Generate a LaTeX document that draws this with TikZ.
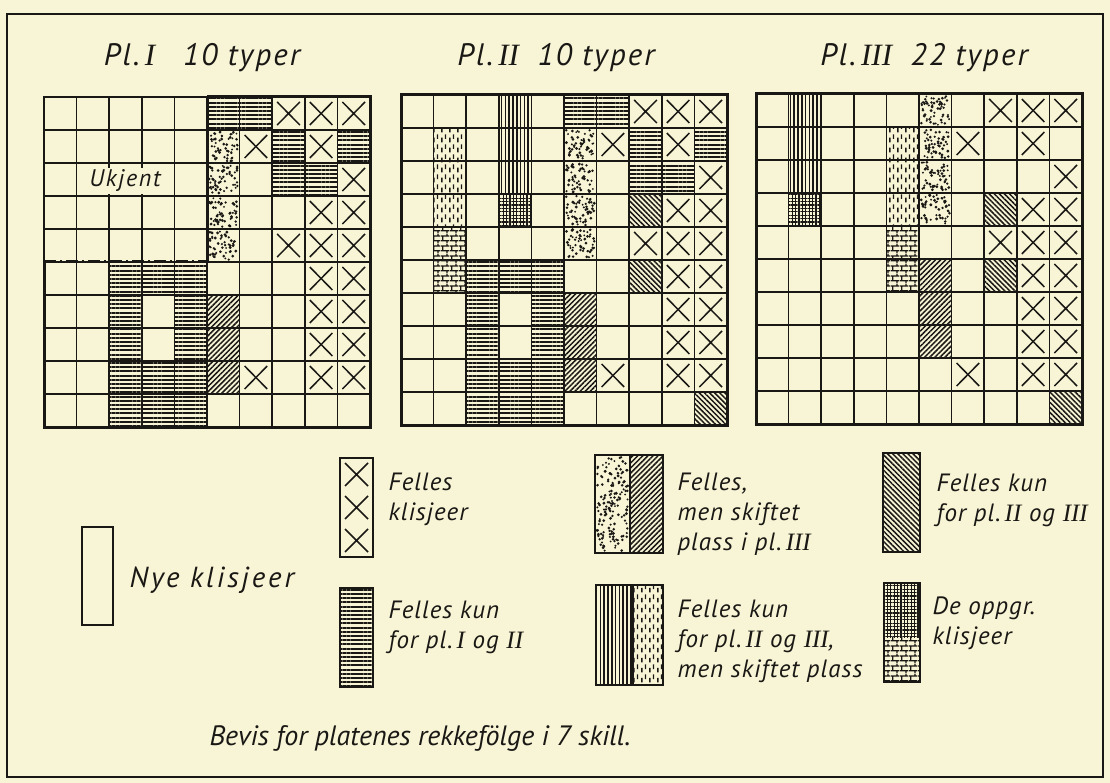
\documentclass[tikz,border=0pt]{standalone}
\usepackage{fontspec}
\setmainfont{PT Sans}
\newfontfamily\handfont[LetterSpace=7]{PT Sans}
\newfontfamily\legfont[LetterSpace=4]{PT Sans}
\newfontfamily\nyefont[LetterSpace=10]{PT Sans}
\newfontfamily\romfont{Liberation Serif}
\usetikzlibrary{patterns,patterns.meta}

\definecolor{paper}{RGB}{248,244,214}
\definecolor{ink}{RGB}{26,24,20}

% cell size of the three plates
\newcommand{\cw}{32.6}
\newcommand{\ch}{33}
\newcommand{\rn}[1]{{\romfont\itshape #1}}

% short vertical dashes
\tikzdeclarepattern{
  name=dashes, type=uncolored,
  bottom left={(0pt,0pt)}, top right={(8pt,10pt)},
  tile size={(8pt,10pt)},
  code={
    \draw[line width=1.5pt] (2pt,0.7pt) -- (2pt,5.7pt) (6pt,4.3pt) -- (6pt,9.3pt);
  }
}
% small bricks
\tikzdeclarepattern{
  name=brickwork, type=uncolored,
  bottom left={(0pt,0pt)}, top right={(9pt,10pt)},
  tile size={(9pt,10pt)},
  code={
    \draw[line width=1.4pt] (0pt,2.5pt) -- (9pt,2.5pt) (0pt,7.5pt) -- (9pt,7.5pt)
      (2pt,2.5pt) -- (2pt,7.5pt) (6.5pt,7.5pt) -- (6.5pt,10pt) (6.5pt,0pt) -- (6.5pt,2.5pt);
  }
}

% cell (col,row) filled with a style
\newcommand{\pcell}[3]{\fill[#3] ({(#1-1)*\cw},{(#2-1)*\ch}) rectangle ++(\cw,\ch);}
% random stipple in a box: x, y, width, height, number of dots
\newcommand{\stipple}[5]{\foreach \k in {1,...,#5} {
  \fill[ink] ({#1+2+rnd*(#3-4)},{#2+2+rnd*(#4-4)}) circle ({1.0+0.6*rnd});}}
\newcommand{\dotcell}[2]{\stipple{(#1-1)*\cw}{(#2-1)*\ch}{\cw}{\ch}{55}}
% cross in cell (col,row)
\newcommand{\xcell}[2]{\draw[xmark] ({(#1-1)*\cw+5},{(#2-1)*\ch+5}) -- ({#1*\cw-5},{#2*\ch-5})
  ({#1*\cw-5},{(#2-1)*\ch+5}) -- ({(#1-1)*\cw+5},{#2*\ch-5});}
% thin lines of the 10x10 grid
\newcommand{\cellgrid}{\foreach \i in {1,...,9} {
  \draw[gridline] ({\i*\cw},0) -- ({\i*\cw},{10*\ch});
  \draw[gridline] (0,{\i*\ch}) -- ({10*\cw},{\i*\ch});}}

\newcommand{\xlist}{8/1,9/1,10/1,7/2,9/2,10/3,9/4,10/4,8/5,9/5,10/5,9/6,10/6,9/7,10/7,9/8,10/8,7/9,9/9,10/9}
\newcommand{\hlist}{6/1,7/1,8/2,10/2,8/3,9/3,3/6,4/6,5/6,3/7,5/7,3/8,5/8,3/9,4/9,5/9,3/10,4/10,5/10}

\begin{document}
\begin{tikzpicture}[x=1pt, y=-1pt,
  gridline/.style={ink, line width=1.5pt},
  border/.style={ink, line width=3pt},
  xmark/.style={ink, line width=1.5pt},
  legbox/.style={ink, line width=1.9pt},
  hlines/.style={pattern={Lines[angle=0,distance=4.2pt,line width=1.9pt]}, pattern color=ink},
  vlines/.style={pattern={Lines[angle=90,distance=3.8pt,line width=1.6pt]}, pattern color=ink},
  nelines/.style={pattern={Lines[angle=45,distance=3.6pt,line width=1.5pt]}, pattern color=ink},
  nwlines/.style={pattern={Lines[angle=-45,distance=3.6pt,line width=1.5pt]}, pattern color=ink},
  hatchbox/.style={pattern={Hatch[angle=0,distance=3.4pt,line width=1.2pt]}, pattern color=ink},
  dashbox/.style={pattern=dashes, pattern color=ink},
  bricks/.style={pattern=brickwork, pattern color=ink},
  title/.style={font=\handfont\fontsize{31}{34}\selectfont\itshape, text=ink},
  legtext/.style={font=\legfont\fontsize{25}{30}\selectfont\itshape, text=ink, align=left, anchor=west},
]
\pgfmathsetseed{4711}
\fill[paper] (0,0) rectangle (1110,783);
\draw[ink, line width=1.5pt] (7,14) rectangle (1103,777);

% titles
\node[title] (titleI) at (202,58) {Pl.\,\rn{I}\hspace{0.9em}10 typer};
\node[title] (titleII) at (556,58) {Pl.\,\rn{II}\hspace{0.6em}10 typer};
\node[title] (titleIII) at (924,58) {Pl.\,\rn{III}\hspace{0.6em}22 typer};

% Pl. I
\begin{scope}[shift={(44,97)}]
  \foreach \c/\r in \hlist {\pcell{\c}{\r}{hlines}}
  \foreach \r in {2,...,5} {\dotcell{6}{\r}}
  \foreach \r in {7,8,9} {\pcell{6}{\r}{nelines}}
  \cellgrid
  \foreach \c/\r in \xlist {\xcell{\c}{\r}}
  \draw[gridline] (0,{5*\ch}) -- (0,0) -- ({5*\cw},0);
  \draw[border] ({5*\cw},0) -- ({10*\cw},0) -- ({10*\cw},{10*\ch}) -- (0,{10*\ch}) -- (0,{5*\ch});
  \draw[border] ({5*\cw},0) -- ({5*\cw},{5*\ch});
  \draw[border, dash pattern=on 12pt off 4pt on 2pt off 4pt] (0,{5*\ch}) -- ({5*\cw},{5*\ch});
\end{scope}
\node[font=\handfont\fontsize{24}{26}\selectfont\itshape, text=ink, fill=paper, inner xsep=2pt, inner ysep=2pt] (ukjent) at (125,181) {Ukjent};

% Pl. II
\begin{scope}[shift={(401,95)}]
  \foreach \c/\r in \hlist {\pcell{\c}{\r}{hlines}}
  \foreach \r in {1,2,3} {\pcell{4}{\r}{vlines}}
  \pcell{4}{4}{hatchbox}
  \foreach \r in {2,3,4} {\pcell{2}{\r}{dashbox}}
  \foreach \r in {5,6} {\pcell{2}{\r}{bricks}}
  \foreach \r in {2,...,5} {\dotcell{6}{\r}}
  \foreach \r in {7,8,9} {\pcell{6}{\r}{nelines}}
  \foreach \c/\r in {8/4,8/6,10/10} {\pcell{\c}{\r}{nwlines}}
  \cellgrid
  \foreach \c/\r in \xlist {\xcell{\c}{\r}}
  \draw[border] (0,0) rectangle ({10*\cw},{10*\ch});
\end{scope}

% Pl. III
\begin{scope}[shift={(756,94)}]
  \foreach \r in {1,2,3} {\pcell{2}{\r}{vlines}}
  \pcell{2}{4}{hatchbox}
  \foreach \r in {2,3,4} {\pcell{5}{\r}{dashbox}}
  \foreach \r in {5,6} {\pcell{5}{\r}{bricks}}
  \foreach \r in {1,...,4} {\dotcell{6}{\r}}
  \foreach \r in {6,7,8} {\pcell{6}{\r}{nelines}}
  \foreach \c/\r in {8/4,8/6,10/10} {\pcell{\c}{\r}{nwlines}}
  \cellgrid
  \foreach \c/\r in \xlist {\xcell{\c}{\r}}
  \draw[border] (0,0) rectangle ({10*\cw},{10*\ch});
\end{scope}

% legend
\draw[legbox] (82,527) rectangle (113,625);
\node[legtext, font=\nyefont\fontsize{29}{32}\selectfont\itshape] (nye) at (126,580) {Nye klisjeer};

\draw[legbox] (340,458) rectangle (373,557);
\foreach \k in {0,1,2} {
  \draw[xmark] (345,{463+\k*33}) -- (368,{486+\k*33}) (368,{463+\k*33}) -- (345,{486+\k*33});}
\node[legtext] (felles) at (385,499) {Felles\\klisjeer};

\fill[hlines] (340,588) rectangle (373,687);
\draw[legbox] (340,588) rectangle (373,687);
\node[legtext] (kunI) at (385,627) {Felles kun\\for pl.\,\rn{I} og \rn{II}};

\stipple{595}{455}{35}{98}{160}
\fill[nelines] (630,455) rectangle (663,553);
\draw[legbox] (595,455) rectangle (663,553) (630,455) -- (630,553);
\node[legtext] (skiftet) at (674,514) {Felles,\\men skiftet\\plass i pl.\,\rn{III}};

\fill[nwlines] (883,453) rectangle (920,552);
\draw[legbox] (883,453) rectangle (920,552);
\node[legtext] (kunII) at (933,500) {Felles kun\\for pl.\,\rn{II} og \rn{III}};

\fill[vlines] (596,585) rectangle (633,685);
\fill[dashbox] (633,585) rectangle (663,685);
\draw[legbox] (596,585) rectangle (663,685) (633,585) -- (633,685);
\node[legtext] (kunIIplass) at (674,641) {Felles kun\\for pl.\,\rn{II} og \rn{III},\\men skiftet plass};

\fill[hatchbox] (884,583) rectangle (920,637);
\fill[bricks] (884,637) rectangle (920,682);
\draw[legbox] (884,583) rectangle (920,682);
\node[legtext] (oppgr) at (929,623) {De oppgr.\\klisjeer};

% caption
\node[font=\fontsize{28}{32}\selectfont\itshape, text=ink] (caption) at (420,738) {Bevis for platenes rekkefölge i 7 skill.};
\end{tikzpicture}
\end{document}
